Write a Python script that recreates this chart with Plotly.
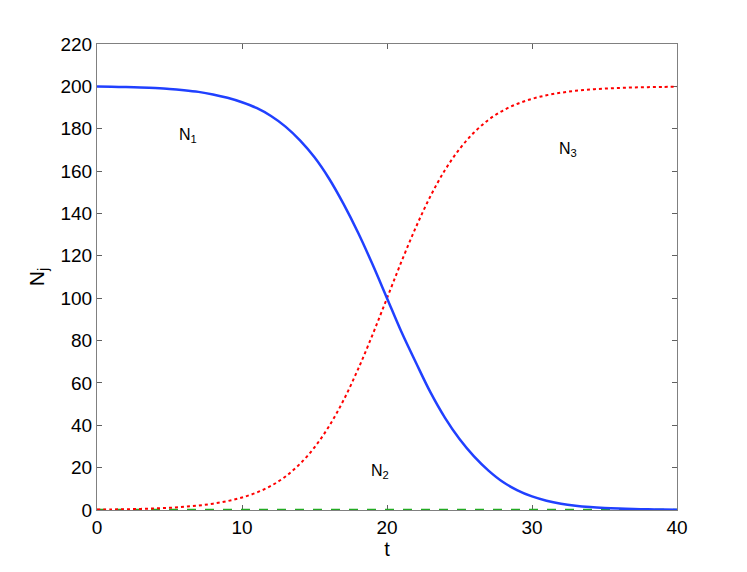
import plotly.graph_objects as go

# time points
t = list(range(0, 41))

# N1 (solid blue)
n1 = [199.9, 199.8, 199.7, 199.5, 199.2, 198.8, 198.2, 197.4, 196.2, 194.6,
      192.5, 189.8, 186.0, 181.0, 174.5, 166.5, 156.5, 144.5, 131.0, 116.0,
      100.0, 84.0, 69.5, 55.5, 43.5, 33.5, 25.3, 18.6, 13.2, 9.3,
      6.4, 4.4, 3.0, 2.05, 1.4, 0.95, 0.65, 0.44, 0.3, 0.2, 0.14]

# N2 (dashed green), stays at zero
n2 = [0.0] * 41

# N3 (dotted red)
n3 = [0.18, 0.26, 0.37, 0.52, 0.74, 1.05, 1.5, 2.1, 3.0, 4.2,
      5.9, 8.2, 11.4, 15.8, 21.8, 29.6, 39.5, 51.8, 66.4, 82.7,
      100.0, 117.3, 133.6, 148.2, 160.5, 170.4, 178.2, 184.2, 188.6, 191.8,
      194.1, 195.8, 197.0, 197.9, 198.5, 198.95, 199.26, 199.48, 199.63, 199.74, 199.82]

labels = ["N<sub>1</sub>", "N<sub>2</sub>", "N<sub>3</sub>"]
label_x = [6.3, 19.5, 32.5]
label_y = [177, 18, 170]

fig = go.Figure()
fig.add_trace(go.Scatter(x=t, y=n2, mode="lines", cliponaxis=False,
                         line=dict(color="#22aa22", width=2.5, dash="dash")))
fig.add_trace(go.Scatter(x=t, y=n3, mode="lines", cliponaxis=False,
                         line=dict(color="#ff0000", width=2, dash="dot", shape="spline")))
fig.add_trace(go.Scatter(x=t, y=n1, mode="lines", cliponaxis=False,
                         line=dict(color="#2040ff", width=2.5, shape="spline")))

for lab, lx, ly in zip(labels, label_x, label_y):
    fig.add_annotation(x=lx, y=ly, text=lab, showarrow=False,
                       font=dict(size=16, color="black"))

axis_style = dict(showline=True, linecolor="#808080", linewidth=1, mirror="ticks",
                  ticks="inside", ticklen=5, tickcolor="#606060",
                  showgrid=False, zeroline=False, automargin=False,
                  layer="below traces",
                  tickfont=dict(size=19, color="black"))

fig.update_xaxes(range=[0, 40], tickvals=[0, 10, 20, 30, 40],
                 title=dict(text="t", font=dict(size=20, color="black"), standoff=2),
                 **axis_style)
fig.update_yaxes(range=[0, 220], tickvals=list(range(0, 221, 20)),
                 title=dict(text="N<sub>j</sub>", font=dict(size=21, color="black"), standoff=10),
                 **axis_style)

# page body has an 8px margin, so shift the plot area up/left by that much
fig.update_layout(
    width=747,
    height=572,
    showlegend=False,
    plot_bgcolor="white",
    paper_bgcolor="white",
    font=dict(family="Liberation Sans, Arial, sans-serif"),
    margin=dict(l=89, r=78, t=36, b=70),
)

fig.write_html("out.html")
